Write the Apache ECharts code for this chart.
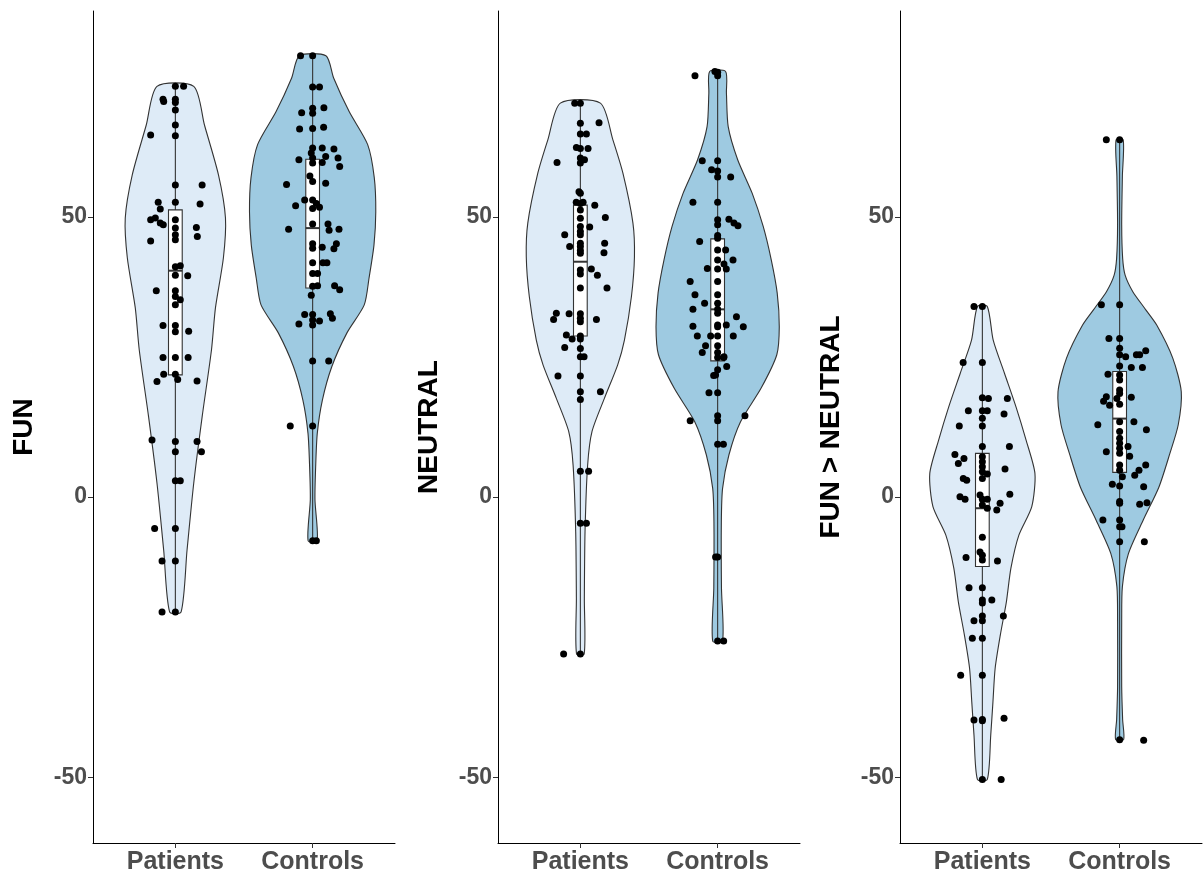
<!DOCTYPE html>
<html><head><meta charset="utf-8">
<script src="https://cdn.jsdelivr.net/npm/echarts@6/dist/echarts.min.js"></script>
<style>html,body{margin:0;padding:0;background:#fff}#c{width:1203px;height:877px}</style>
</head><body><div id="c"></div>
<script>
// ---------- DATA ----------
const categories = ['Patients', 'Controls'];
const panelTitles = ['FUN', 'NEUTRAL', 'FUN > NEUTRAL'];
const yTicks = [-50, 0, 50];
const yLimits = [-55, 80];

// jittered points: [horizontal jitter (category units), value]
const funPatients = [[0,73.3],[0.06,73.3],[-0.09,71.0],[-0.085,70.6],[0,71.0],[0,70.4],[0,69.1],[0,66.4],[-0.18,64.6],[0,64.5],[0,55.7],[0.195,55.7],[0.18,52.3],[-0.125,52.6],[-0.11,51.4],[0,52.6],[-0.18,49.5],[-0.146,49.8],[-0.11,48.9],[-0.088,48.6],[0,49.5],[0,48.0],[0.153,48.1],[0.16,46.5],[-0.18,45.7],[0,46.8],[0,45.9],[0.036,41.3],[0,41.1],[0,39.6],[0.09,39.5],[-0.139,36.8],[0,36.8],[0,35.8],[0.036,35.2],[0,34.3],[-0.09,30.6],[0,30.6],[0,29.5],[0.097,29.6],[-0.09,24.9],[0,24.9],[0.093,24.9],[-0.085,21.9],[0,21.9],[0.017,21.0],[-0.134,20.6],[0.158,20.7],[-0.17,10.2],[0,9.9],[0.158,9.9],[0,8.1],[0.19,8.1],[0,2.9],[0.036,2.9],[-0.151,-5.6],[0,-5.6],[-0.097,-11.4],[0,-11.4],[-0.097,-20.5],[0,-20.5]];
const funControls = [[-0.088,78.75],[0,78.75],[0,73.2],[0.05,73.2],[-0.08,68.6],[0,69.4],[0,68.5],[0.082,69.5],[-0.095,65.7],[0,65.8],[0.08,66.0],[0,62.3],[0.07,62.3],[0.155,62.1],[-0.01,61.4],[0.095,60.8],[0.185,60.5],[0.197,59.0],[-0.1,60.2],[0,60.5],[0,59.6],[0.07,59.7],[-0.02,57.3],[0,56.3],[-0.19,55.8],[0.095,56.0],[-0.058,53.0],[0,53.0],[0.027,52.4],[0.05,51.7],[-0.124,52.0],[0,51.5],[0,48.75],[0.112,48.75],[0.12,47.6],[0.192,47.8],[-0.175,47.8],[0,45.2],[0,44.4],[0.07,44.6],[0.173,45.2],[0.155,44.3],[0,41.8],[0.075,41.8],[0.104,41.8],[0,39.9],[0.036,39.9],[0,37.6],[0.036,37.7],[0.16,37.7],[0.197,37.0],[-0.01,36.0],[-0.058,32.6],[0,32.6],[0,31.6],[-0.1,30.9],[0,30.7],[0.05,31.4],[0.129,32.7],[0.144,31.9],[0,24.3],[0.117,24.3],[-0.163,12.7],[0,12.7],[0,-7.8],[0.027,-7.8]];
const neutralPatients = [[-0.041,70.3],[0,70.3],[0,66.7],[0.136,66.8],[0,64.8],[0.044,64.8],[-0.029,62.4],[0,62.2],[0.056,62.2],[-0.17,59.7],[0,60.5],[0,59.6],[0.03,60.2],[-0.01,54.5],[0,54.2],[-0.03,52.6],[0,52.4],[0.02,52.6],[0.105,52.1],[0,51.25],[0.182,49.9],[0,49.75],[0.068,48.2],[0,48.3],[0,47.4],[0,46.8],[-0.114,46.8],[-0.078,44.7],[0,45.3],[0,44.7],[0,44.0],[0,43.5],[0.177,45.3],[0.172,43.6],[0,40.5],[0,39.8],[0.08,40.7],[0.124,39.6],[0,37.3],[0.194,37.3],[-0.175,32.8],[-0.195,31.7],[-0.082,32.7],[0,32.7],[0,31.9],[0,31.3],[0.117,31.7],[-0.102,28.9],[-0.06,28.2],[0,28.75],[0,28.2],[-0.114,26.7],[0,26.5],[0,25.05],[0.027,25.05],[-0.163,21.6],[0,21.6],[0,18.8],[0.146,18.8],[0,17.4],[0,4.6],[0.06,4.6],[0,-4.7],[0.044,-4.7],[-0.122,-28.0],[0,-28.0]];
const neutralControls = [[-0.165,75.2],[-0.02,75.95],[0,75.8],[0,75.2],[-0.112,60.0],[0,60.0],[-0.044,58.4],[0,58.2],[0,57.1],[0.095,57.1],[-0.18,52.6],[0,52.6],[0,49.5],[0,48.6],[0.082,49.6],[0.148,48.4],[0.119,48.9],[0,46.7],[0,46.2],[-0.131,45.6],[0,44.1],[0.058,44.1],[0,42.3],[0.112,42.3],[0.046,41.6],[0,40.7],[-0.075,40.8],[0.063,40.7],[-0.2,38.45],[0,38.45],[-0.165,36.1],[0,36.1],[-0.095,34.6],[0,34.6],[-0.18,33.5],[0,33.5],[0,32.8],[0.137,32.2],[0.063,30.7],[0.187,30.4],[0,30.7],[0,30.4],[-0.18,30.5],[-0.148,28.75],[-0.051,28.75],[0,28.75],[0.114,28.75],[-0.088,27.0],[-0.112,25.8],[0,27.0],[0,25.8],[0.046,25.05],[0,24.9],[0.044,24.9],[0.066,23.3],[0,22.7],[-0.015,21.8],[-0.029,21.7],[-0.063,18.6],[0,18.6],[-0.2,13.6],[0,14.5],[0,13.6],[0.199,14.5],[0,9.4],[0.042,9.4],[-0.015,-10.7],[0,-10.7],[0,-25.7],[0.044,-25.7]];
const diffPatients = [[-0.061,34.0],[0,34.0],[-0.14,24.0],[0,24.0],[0,17.7],[0.044,17.6],[0.182,17.6],[-0.102,15.4],[0,15.4],[0.036,15.4],[0.158,14.8],[0,14.05],[-0.168,12.7],[0,12.7],[0,9.0],[0.197,9.0],[-0.2,7.6],[-0.134,6.9],[-0.175,6.0],[0,7.2],[0,6.3],[0,5.4],[0,4.5],[0.036,4.1],[0,3.3],[0.165,5.0],[-0.139,3.3],[-0.114,3.0],[0.2,0.5],[-0.163,0.05],[-0.126,-0.4],[-0.017,0.36],[0,-0.4],[0.036,-0.4],[0,-1.4],[0.036,-2.0],[0.129,-1.1],[0.105,-2.3],[0,-7.2],[-0.119,-10.8],[-0.017,-9.8],[0,-10.4],[0,-11.25],[0.11,-11.4],[-0.097,-16.2],[0,-16.2],[0,-18.4],[0,-18.9],[0.069,-18.4],[-0.061,-22.1],[0,-22.1],[0,-21.25],[0.153,-21.25],[-0.073,-25.2],[0,-25.2],[-0.158,-31.8],[0,-31.8],[-0.061,-39.8],[0,-39.7],[0,-39.95],[0.158,-39.5],[0,-50.4],[0.137,-50.4]];
const diffControls = [[-0.097,63.75],[0,63.75],[-0.133,34.3],[0,34.3],[-0.078,28.3],[0,28.3],[0,26.55],[0,25.4],[0.044,25.05],[0.122,25.4],[0.146,25.4],[0.19,26.1],[0,23.4],[0.085,23.1],[0.166,23.1],[-0.085,21.9],[0,21.8],[0,20.9],[0,19.1],[0,18.5],[-0.02,17.6],[0.085,17.8],[-0.097,17.9],[-0.117,17.1],[-0.073,16.4],[0,16.55],[-0.159,12.9],[0,13.45],[0.104,13.45],[0,11.7],[0.195,12.0],[-0.097,8.1],[0,10.5],[0,9.6],[0,8.7],[0,7.8],[0.061,9.0],[0.073,7.3],[0,5.7],[0,4.8],[0.02,3.6],[0.11,3.9],[0.141,4.8],[0.19,5.7],[-0.053,2.3],[0,1.96],[0.175,1.84],[0,-0.8],[0,-1.1],[0.146,-1.3],[0.199,-1.0],[-0.122,-4.1],[0,-4.1],[0,-5.3],[0.017,-5.3],[0,-8.0],[0.18,-8.0],[0,-43.3],[0.175,-43.4]];

// box statistics: [min, Q1, median, Q3, max]
const funPatientsBox = [-20.5, 21.8, 40.4, 51.25, 73.3];
const funControlsBox = [-7.8, 37.3, 48.0, 60.3, 78.75];
const neutralPatientsBox = [-28.0, 28.75, 42.0, 52.1, 70.3];
const neutralControlsBox = [-25.7, 24.3, 33.5, 46.07, 75.95];
const diffPatientsBox = [-50.4, -12.4, -2.0, 7.8, 34.0];
const diffControlsBox = [-43.3, 4.4, 14.0, 22.4, 63.75];

// violin density profile: [value, half width (category units)], top to bottom
const funPatientsViolin = [[73.3,0.134],[66.4,0.212],[57.5,0.314],[49.8,0.365],[42.7,0.350],[33.75,0.292],[26.25,0.263],[14.3,0.195],[2.5,0.134],[-9.5,0.085],[-20.5,0.042]];
const funControlsViolin = [[78.75,0.097],[74.8,0.153],[68.8,0.266],[62.9,0.401],[57.0,0.449],[50.9,0.460],[45.0,0.447],[39.1,0.411],[34.3,0.376],[29.3,0.250],[23.3,0.140],[17.3,0.071],[11.4,0.034],[5.4,0.022],[-0.5,0.017],[-7.8,0.033]];
const neutralPatientsViolin = [[70.3,0.146],[63.75,0.237],[57.8,0.310],[48.9,0.383],[42.9,0.394],[35.8,0.372],[28.0,0.321],[23.6,0.272],[17.6,0.175],[11.7,0.085],[5.7,0.053],[-6.2,0.034],[-18.1,0.029],[-28.0,0.028]];
const neutralControlsViolin = [[75.95,0.058],[72.1,0.064],[66.1,0.077],[60.2,0.146],[54.2,0.252],[48.3,0.332],[42.3,0.391],[36.4,0.434],[30.4,0.449],[25.4,0.431],[19.4,0.316],[13.4,0.166],[7.5,0.082],[1.55,0.036],[-4.4,0.027],[-16.3,0.028],[-25.7,0.036]];
const diffPatientsViolin = [[34.0,0.036],[28.0,0.079],[22.1,0.161],[16.1,0.245],[10.2,0.318],[4.2,0.383],[-1.7,0.360],[-6.8,0.266],[-12.7,0.208],[-18.7,0.175],[-24.6,0.131],[-30.6,0.093],[-36.6,0.077],[-42.5,0.061],[-50.4,0.036]];
const diffControlsViolin = [[63.75,0.026],[57.3,0.020],[48.6,0.015],[42.6,0.022],[39.6,0.040],[36.7,0.095],[33.7,0.182],[30.7,0.270],[24.8,0.387],[18.8,0.449],[12.9,0.427],[7.7,0.365],[1.7,0.285],[-4.1,0.172],[-10.1,0.064],[-16.0,0.020],[-22.0,0.015],[-33.9,0.015],[-39.8,0.022],[-43.3,0.029]];

// ---------- CHART ----------
const panels = [
  {points:[funPatients, funControls], boxes:[funPatientsBox, funControlsBox], violins:[funPatientsViolin, funControlsViolin]},
  {points:[neutralPatients, neutralControls], boxes:[neutralPatientsBox, neutralControlsBox], violins:[neutralPatientsViolin, neutralControlsViolin]},
  {points:[diffPatients, diffControls], boxes:[diffPatientsBox, diffControlsBox], violins:[diffPatientsViolin, diffControlsViolin]}
];
const fills = ['#DEEBF7', '#9ECAE1'];
const FONT = '"Liberation Sans", Arial, sans-serif';
const expand = (yLimits[1] - yLimits[0]) * 0.05;
const yMin = yLimits[0] - expand, yMax = yLimits[1] + expand;
const gridLefts = [93, 498, 900];

function violinRender(profile, center, fill) {
  return function (params, api) {
    const right = profile.map(p => api.coord([center + p[1], p[0]]));
    const left = profile.slice().reverse().map(p => api.coord([center - p[1], p[0]]));
    return {type: 'polygon', shape: {points: right.concat(left), smooth: 0.25},
      style: {fill: fill, stroke: '#333333', lineWidth: 1.1}};
  };
}
function boxRender(stats, center) {
  return function (params, api) {
    const hw = 0.05;
    const pMax = api.coord([center, stats[4]]), pQ3 = api.coord([center, stats[3]]);
    const pQ1 = api.coord([center, stats[1]]), pMin = api.coord([center, stats[0]]);
    const tl = api.coord([center - hw, stats[3]]), br = api.coord([center + hw, stats[1]]);
    const m1 = api.coord([center - hw, stats[2]]), m2 = api.coord([center + hw, stats[2]]);
    const st = {stroke: '#333333', lineWidth: 1.1};
    return {type: 'group', children: [
      {type: 'line', shape: {x1: pMax[0], y1: pMax[1], x2: pQ3[0], y2: pQ3[1]}, style: st},
      {type: 'line', shape: {x1: pQ1[0], y1: pQ1[1], x2: pMin[0], y2: pMin[1]}, style: st},
      {type: 'rect', shape: {x: tl[0], y: tl[1], width: br[0] - tl[0], height: br[1] - tl[1]}, style: {fill: '#ffffff', stroke: '#333333', lineWidth: 1.1}},
      {type: 'line', shape: {x1: m1[0], y1: m1[1], x2: m2[0], y2: m2[1]}, style: {stroke: '#333333', lineWidth: 2}}
    ]};
  };
}

const grid = [], xAxis = [], yAxis = [], series = [];
panels.forEach((pn, i) => {
  grid.push({left: gridLefts[i], width: 302, top: 11, bottom: 34});
  xAxis.push({type: 'value', gridIndex: i, min: 0.4, max: 2.6,
    axisLine: {show: true, onZero: false, lineStyle: {color: '#000', width: 1}},
    axisTick: {show: true, customValues: [1, 2], length: 5, lineStyle: {color: '#333'}},
    axisLabel: {show: true, customValues: [1, 2], formatter: v => categories[Math.round(v) - 1],
      color: '#4D4D4D', fontSize: 25, fontWeight: 'bold', fontFamily: FONT, margin: 7},
    splitLine: {show: false}});
  yAxis.push({type: 'value', gridIndex: i, min: yMin, max: yMax,
    name: panelTitles[i], nameLocation: 'middle', nameGap: 55, nameRotate: 90,
    nameTextStyle: {color: '#000', fontSize: 28, fontWeight: 'bold', fontFamily: FONT},
    axisLine: {show: true, onZero: false, lineStyle: {color: '#000', width: 1}},
    axisTick: {show: true, customValues: yTicks, length: 5, lineStyle: {color: '#333'}},
    axisLabel: {show: true, customValues: yTicks, color: '#4D4D4D', fontSize: 23, fontWeight: 'bold', fontFamily: FONT, margin: 6},
    splitLine: {show: false}});
  [0, 1].forEach(g => {
    const center = g + 1;
    series.push({type: 'custom', xAxisIndex: i, yAxisIndex: i, z: 1, silent: true,
      renderItem: violinRender(pn.violins[g], center, fills[g]), data: [[center, pn.boxes[g][2]]]});
  });
  [0, 1].forEach(g => {
    const center = g + 1;
    series.push({type: 'custom', xAxisIndex: i, yAxisIndex: i, z: 2, silent: true,
      renderItem: boxRender(pn.boxes[g], center), data: [[center, pn.boxes[g][2]]]});
  });
  [0, 1].forEach(g => {
    const center = g + 1;
    series.push({type: 'scatter', xAxisIndex: i, yAxisIndex: i, z: 3, silent: true,
      symbolSize: 7, itemStyle: {color: '#000', opacity: 1},
      data: pn.points[g].map(p => [center + p[0], p[1]])});
  });
});

const chart = echarts.init(document.getElementById('c'), null, {renderer: 'canvas'});
chart.setOption({animation: false, backgroundColor: '#fff', grid, xAxis, yAxis, series});
</script></body></html>
